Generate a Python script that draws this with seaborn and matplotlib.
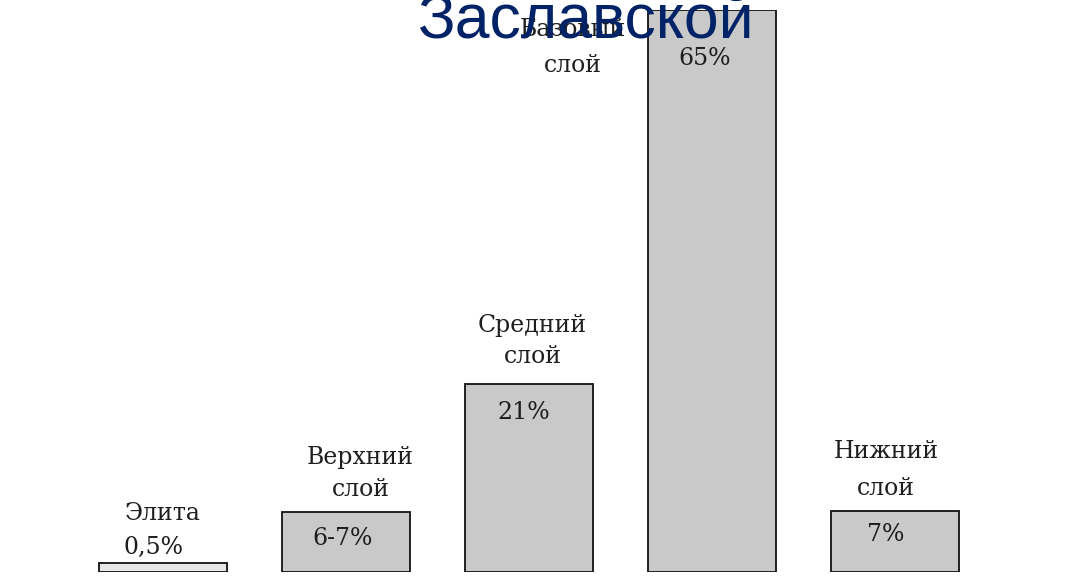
import matplotlib
matplotlib.use("Agg")
import matplotlib.pyplot as plt
import seaborn as sns
import pandas as pd

# слои общества (схема Заславской)
categories = ["Элита", "Верхний слой", "Средний слой", "Базовый слой", "Нижний слой"]
label_top = ["Элита", "Верхний", "Средний", "Базовый", "Нижний"]
label_bottom = ["", "слой", "слой", "слой", "слой"]
shares = ["0,5%", "6-7%", "21%", "65%", "7%"]
# высота столбцов, как на картинке (в процентах)
bar_heights = [1.0, 6.9, 21.8, 65.0, 7.0]
fills = ["#e6e6e6", "#c9c9c9", "#c9c9c9", "#c9c9c9", "#c9c9c9"]

df = pd.DataFrame({"layer": categories, "height": bar_heights})

sns.set_theme(style="white")
plt.rcParams["font.family"] = ["DejaVu Serif"]

fig = plt.figure(figsize=(10.69, 5.87), dpi=100)
ax = fig.add_axes([71.5 / 1069, 15 / 587, 915 / 1069, 562 / 587])

sns.barplot(data=df, x="layer", y="height", hue="layer", palette=fills,
            width=0.7, edgecolor="#111111", linewidth=1.3, legend=False, ax=ax)

ax.set_ylim(0, 65)
ax.set_xlim(-0.5, 4.5)
ax.axis("off")

txt = dict(fontsize=17, color="#1e1e1e", ha="center", va="center")

# подписи слоёв над столбцами (позиции подобраны по картинке)
name_pos = [(0.0, 6.8, None), (1.08, 13.2, 9.5), (2.02, 28.5, 24.9),
            (2.24, 62.7, 58.6), (3.95, 13.9, 9.7)]
for i, (x, y1, y2) in enumerate(name_pos):
    ax.text(x, y1, label_top[i], **txt)
    if y2 is not None:
        ax.text(x, y2, label_bottom[i], **txt)

share_pos = [(-0.05, 2.8), (0.98, 3.9), (1.97, 18.4), (2.96, 59.4), (3.95, 4.3)]
for i, (x, y) in enumerate(share_pos):
    ax.text(x, y, shares[i], **txt)

fig.text(0.548, 1 - 38 / 587, "Заславской", fontsize=45, color="#002266",
         family=["Liberation Sans", "DejaVu Sans"], ha="center", va="baseline")

fig.savefig("out.png", dpi=100)
